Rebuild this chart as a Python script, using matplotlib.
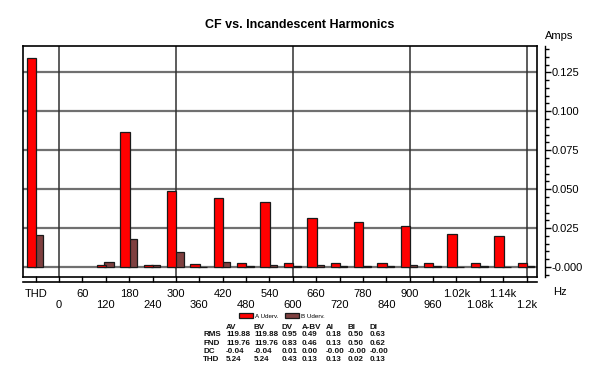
import matplotlib
matplotlib.use("Agg")
import matplotlib.pyplot as plt
from matplotlib.ticker import FixedLocator, FixedFormatter, MultipleLocator

plt.rcParams['font.family'] = ['Liberation Sans', 'DejaVu Sans']

# ---- data ----
freqs = [-60, 120, 180, 240, 300, 360, 420, 480, 540, 600, 660, 720, 780, 840, 900,
         960, 1020, 1080, 1140, 1200]
a_vals = [0.1344, 0.0015, 0.0867, 0.0011, 0.0487, 0.0019, 0.0444, 0.0028, 0.0415, 0.0028,
          0.0316, 0.0028, 0.0290, 0.0028, 0.0263, 0.0028, 0.0210, 0.0028, 0.0197, 0.0028]
b_vals = [0.0207, 0.0030, 0.0178, 0.0013, 0.0098, 0.0002, 0.0030, 0.0008, 0.0011, 0.0006,
          0.0010, 0.0006, 0.0008, 0.0005, 0.0010, 0.0005, 0.0003, 0.0005, 0.0003, 0.0005]
tick_pos = list(range(-60, 1201, 60))
tick_txt = ['THD', '0', '60', '120', '180', '240', '300', '360', '420', '480', '540', '600',
            '660', '720', '780', '840', '900', '960', '1.02k', '1.08k', '1.14k', '1.2k']
y_ticks = [0.0, 0.025, 0.05, 0.075, 0.1, 0.125]
y_txt = ['-0.000', '0.025', '0.050', '0.075', '0.100', '0.125']
series_names = ['A Uderv.', 'B Uderv.']
tbl_cols = ['AV', 'BV', 'DV', 'A-BV', 'AI', 'BI', 'DI']
tbl_rows = ['RMS', 'FND', 'DC', 'THD']
tbl_AV = ['119.88', '119.76', '-0.04', '5.24']
tbl_BV = ['119.88', '119.76', '-0.04', '5.24']
tbl_DV = ['0.95', '0.83', '0.01', '0.43']
tbl_ABV = ['0.49', '0.46', '0.00', '0.13']
tbl_AI = ['0.18', '0.13', '-0.00', '0.13']
tbl_BI = ['0.50', '0.50', '-0.00', '0.02']
tbl_DI = ['0.63', '0.62', '-0.00', '0.13']

fig = plt.figure(figsize=(6.1, 3.81), dpi=100)
ax = fig.add_axes([23 / 610, 1 - 276.7 / 381, (536.7 - 23) / 610, (276.7 - 46) / 381])
ax.set_xlim(-92.5, 1226)
ax.set_ylim(-0.0062, 0.1419)

red = '#ff0000'
brown = '#7f4040'
bw = 24
hb = ax.bar([f + 8 for f in freqs], b_vals, width=bw, color=brown, edgecolor='#1a1a1a',
            linewidth=0.9, zorder=3)
ha_ = ax.bar([f - 11 for f in freqs], a_vals, width=bw, color=red, edgecolor='#1a1a1a',
             linewidth=0.9, zorder=4)

# grid
for yv in y_ticks:
    ax.axhline(yv, color='#707070', lw=1.6, zorder=1)
for xv in [0, 300, 600, 900, 1200]:
    ax.axvline(xv, color='#303030', lw=1.1, zorder=1)

# spines
for s in ['top', 'left']:
    ax.spines[s].set_linewidth(1.2)
ax.plot([1, 1], [0, 1], transform=ax.transAxes, color='black', lw=1.2, clip_on=False)
ax.plot([0, 1], [0, 0], transform=ax.transAxes, color='black', lw=1.2, clip_on=False)
ax.spines['bottom'].set_position(('outward', 3.5))
ax.spines['bottom'].set_linewidth(1.2)

# y axis on right
ax.yaxis.tick_right()
ax.spines['right'].set_position(('outward', 6))
ax.spines['right'].set_linewidth(1.0)
ax.yaxis.set_major_locator(FixedLocator(y_ticks))
ax.yaxis.set_major_formatter(FixedFormatter(y_txt))
ax.yaxis.set_minor_locator(MultipleLocator(0.005))
ax.tick_params(axis='y', which='major', direction='out', length=4, width=1, labelsize=8, pad=1)
ax.tick_params(axis='y', which='minor', direction='out', length=3, width=1)

# x axis: two staggered label rows
ax.xaxis.set_major_locator(FixedLocator(tick_pos[0::2]))
ax.xaxis.set_major_formatter(FixedFormatter(tick_txt[0::2]))
ax.xaxis.set_minor_locator(FixedLocator(tick_pos[1::2]))
ax.xaxis.set_minor_formatter(FixedFormatter(tick_txt[1::2]))
ax.tick_params(axis='x', which='major', direction='in', length=4, width=1, labelsize=8, pad=5)
ax.tick_params(axis='x', which='minor', direction='in', length=4, width=1, labelsize=8, pad=13.5)

fig.text(300 / 610, 1 - 25 / 381, 'CF vs. Incandescent Harmonics', ha='center', va='center',
         fontsize=9, fontweight='bold')
fig.text(545 / 610, 1 - 36 / 381, 'Amps', ha='left', va='center', fontsize=8)
fig.text(553 / 610, 1 - 292 / 381, 'Hz', ha='left', va='center', fontsize=8)

# legend
fig.legend([ha_, hb], series_names, loc='center', bbox_to_anchor=(282 / 610, 1 - 316 / 381),
           ncol=2, fontsize=4.5, frameon=False, handlelength=2.2, handleheight=0.8,
           columnspacing=1.0, handletextpad=0.4)

# table
col_x = [226, 254, 281.7, 301.7, 326, 347.7, 370]
row_y = [335, 343.5, 351.7, 359.5]
cols_data = [tbl_AV, tbl_BV, tbl_DV, tbl_ABV, tbl_AI, tbl_BI, tbl_DI]
tk = dict(fontsize=5.8, fontweight='bold', va='center', ha='left', color='#111111')
for cx, name in zip(col_x, tbl_cols):
    fig.text(cx / 610, 1 - 327.3 / 381, name, **tk)
for ry, name in zip(row_y, tbl_rows):
    fig.text(203.3 / 610, 1 - ry / 381, name, **tk)
for cx, col in zip(col_x, cols_data):
    for ry, v in zip(row_y, col):
        fig.text(cx / 610, 1 - ry / 381, v, **tk)

fig.savefig('out.png', dpi=100)
